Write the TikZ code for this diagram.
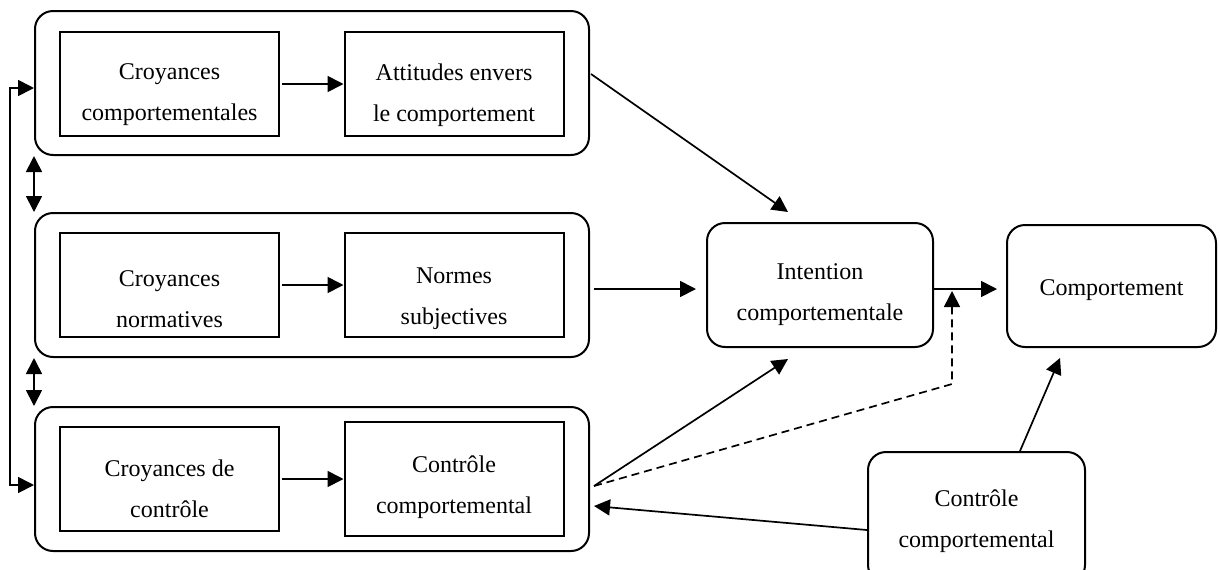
\documentclass[tikz,border=0pt]{standalone}
\usepackage{fontspec}
\setmainfont{Liberation Serif}
\usetikzlibrary{arrows.meta}

\begin{document}
\begin{tikzpicture}
	[x=0.5pt, y=-0.5pt,
	 >={Triangle[length=8pt,width=8pt]},
	 every label/.style={align=center, font=\fontsize{12}{20.5}\selectfont},
	 bloc/.style={draw, rounded corners=9pt, line width=1pt, minimum width=277pt, minimum height=72pt},
	 boite/.style={draw, line width=1pt, minimum width=109.5pt, minimum height=52pt},
	 ronde/.style={draw, rounded corners=9pt, line width=1pt},
	 fl/.style={->, line width=0.85pt}]
	\clip (0,0) rectangle (1220,569);
	% les trois blocs
	\node[bloc] (b1) at (312,83) {};
	\node[bloc] (b2) at (312,285) {};
	\node[bloc] (b3) at (312,479) {};
	\node[boite, label={[yshift=-5.5pt]center:Croyances\\comportementales}] (cc) at (169.5,84) {};
	\node[boite, label={[yshift=-5.5pt]center:Attitudes envers\\le comportement}] (att) at (454,84) {};
	\node[boite, label={[yshift=-7pt]center:Croyances\\normatives}] (cn) at (169.5,285) {};
	\node[boite, label={[yshift=-7pt]center:Normes\\subjectives}] (ns) at (454,285) {};
	\node[boite, label={[yshift=-5pt]center:Croyances de\\contrôle}] (cdc) at (169.5,479) {};
	\node[boite, minimum height=57pt, label={[yshift=-4pt]center:Contrôle\\comportemental}] (ctl) at (454,479) {};
	% a droite
	\node[ronde, minimum width=113pt, minimum height=62pt, label={[yshift=-5pt]center:Intention\\comportementale}] (int) at (820,285) {};
	\node[ronde, minimum width=104.5pt, minimum height=61pt, label={[yshift=-2pt]center:Comportement}] (comp) at (1111.5,286) {};
	\node[ronde, minimum width=108.5pt, minimum height=65.5pt, label={[yshift=-2pt]center:Contrôle\\comportemental}] (pbc) at (976.5,517.5) {};

	\draw[fl, shorten <=1pt] (cc) -- (att);
	\draw[fl, shorten <=1pt] (cn) -- (ns);
	\draw[fl, shorten <=1pt] (cdc) -- (ctl);
	\draw[line width=0.85pt, <->] (b1.south west) -- (b2.north west);
	\draw[line width=0.85pt, <->] (b2.south west) -- (b3.north west);
	\draw[line width=0.85pt, <->] ([shift={(0,5)}]b1.west) -- ++(-24,0) |- ([shift={(0,6)}]b3.west);

	\draw[fl] ([shift={(1,-9)}]b1.east) -- ([shift={(-32,-10)}]int.north);
	\draw[fl] ([shift={(4,4)}]b2.east) -- ([shift={(-10,4)}]int.west);
	\draw[fl] ([shift={(0,4)}]int.east) -- ([shift={(-9,3)}]comp.west);
	\coordinate (s3) at ([shift={(4,7)}]b3.east);
	\draw[fl] (s3) -- ([shift={(-32,11)}]int.south);
	\draw[fl, dash pattern=on 4pt off 2.5pt] (s3) -- ([shift={(18,99)}]int.east) -- ([shift={(18,6)}]int.east);
	\draw[fl] ([shift={(0,12.5)}]pbc.west) -- ([shift={(4,27)}]b3.east);
	\draw[fl] ([shift={(43.5,0)}]pbc.north) -- ([shift={(-51.5,10)}]comp.south);
\end{tikzpicture}
\end{document}
